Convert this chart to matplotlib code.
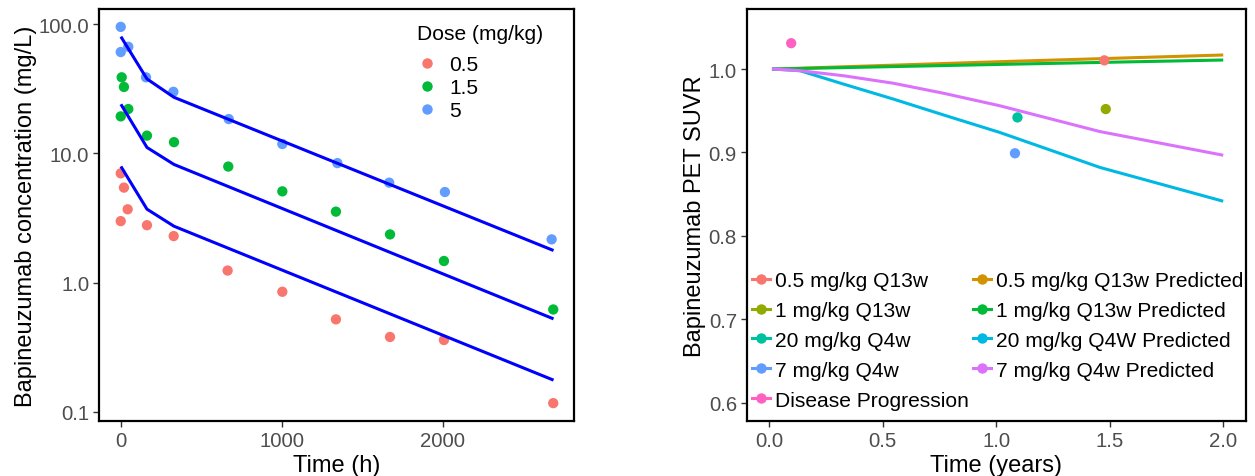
import numpy as np
import matplotlib.pyplot as plt
from matplotlib.lines import Line2D

plt.rcParams['font.family'] = ['Liberation Sans', 'DejaVu Sans']

# ---- left panel: observed concentrations by dose (mg/kg)
doses = ["0.5", "1.5", "5"]
dose_colors = ["#F8766D", "#00BA38", "#619CFF"]
obs_t = {
    "0.5": [0, 20, 43, 0, 163, 329, 664, 1004, 1337, 1673, 2008, 2687],
    "1.5": [6, 20, 0, 47, 163, 331, 668, 1004, 1337, 1673, 2008, 2687],
    "5":   [0, 0, 47, 157, 327, 671, 1004, 1346, 1668, 2014, 2677],
}
obs_c = {
    "0.5": [7.0, 5.43, 3.69, 2.99, 2.78, 2.29, 1.24, 0.85, 0.52, 0.38, 0.36, 0.117],
    "1.5": [38.7, 32.6, 19.3, 22.0, 13.7, 12.2, 7.9, 5.08, 3.54, 2.36, 1.47, 0.62],
    "5":   [95, 60.7, 66.7, 38.7, 29.9, 18.4, 11.8, 8.4, 5.93, 5.02, 2.16],
}
# model predictions
pred_t = [6, 163, 331, 2680]
pred_c = {
    "0.5": [7.74, 3.7, 2.73, 0.178],
    "1.5": [23.4, 11.1, 8.2, 0.53],
    "5":   [78, 37.6, 27.1, 1.79],
}

# ---- right panel: PET SUVR
obs_names = ["0.5 mg/kg Q13w", "1 mg/kg Q13w", "20 mg/kg Q4w", "7 mg/kg Q4w",
             "Disease Progression"]
obs_colors = ["#F8766D", "#93AA00", "#00C19F", "#619CFF", "#FF61C3"]
obs_years = [1.476, 1.482, 1.093, 1.082, 0.096]
obs_suvr = [1.0104, 0.952, 0.942, 0.899, 1.031]

pred_names = ["0.5 mg/kg Q13w Predicted", "1 mg/kg Q13w Predicted",
              "20 mg/kg Q4W Predicted", "7 mg/kg Q4w Predicted"]
pred_colors = ["#D39200", "#00BA38", "#00B9E3", "#DB72FB"]
pred_years = {
    "0.5 mg/kg Q13w Predicted": [0.018, 1.06, 1.993],
    "1 mg/kg Q13w Predicted": [0.018, 1.06, 1.993],
    "20 mg/kg Q4W Predicted": [0.018, 0.135, 0.326, 0.546, 0.767, 1.015, 1.457, 1.993],
    "7 mg/kg Q4w Predicted": [0.018, 0.135, 0.326, 0.546, 0.767, 1.015, 1.457, 1.993],
}
pred_suvr = {
    "0.5 mg/kg Q13w Predicted": [1.0, 1.0092, 1.0168],
    "1 mg/kg Q13w Predicted": [1.0, 1.0058, 1.0108],
    "20 mg/kg Q4W Predicted": [1.0, 0.998, 0.982, 0.964, 0.945, 0.924, 0.882, 0.842],
    "7 mg/kg Q4w Predicted": [1.0, 0.998, 0.992, 0.983, 0.971, 0.956, 0.925, 0.897],
}

W, H = 1255, 477
fig = plt.figure(figsize=(W / 100, H / 100), dpi=100)
axL = fig.add_axes([99 / W, 1 - 422 / H, 475 / W, 412 / H])
axR = fig.add_axes([746.7 / W, 1 - 422 / H, 499.3 / W, 412 / H])

tick_fs = 14.7
lab_fs = 17
leg_fs = 15.1

# left
for d in doses:
    axL.plot(pred_t, pred_c[d], color="#0000FF", lw=2.2, zorder=3)
for d, col in zip(doses, dose_colors):
    axL.scatter(obs_t[d], obs_c[d], s=55, color=col, edgecolors="none", zorder=2, label=d)
axL.set_yscale("log")
axL.set_ylim(10 ** -1.07, 10 ** 2.116)
axL.set_xlim(-135, 2816)
axL.set_yticks([0.1, 1, 10, 100])
axL.set_yticklabels(["0.1", "1.0", "10.0", "100.0"])
axL.minorticks_off()
axL.set_xticks([0, 1000, 2000])
axL.set_xlabel("Time (h)", fontsize=lab_fs, labelpad=3)
axL.set_ylabel("Bapineuzumab concentration (mg/L)", fontsize=lab_fs, labelpad=1)
fig.text(416.7 / W, 1 - 34.5 / H, "Dose (mg/kg)", fontsize=leg_fs, ha="left", va="center")
handles = [Line2D([], [], ls="none", marker="o", ms=7.5, color=c, mec="none") for c in dose_colors]
axL.legend(handles, doses, loc="upper left",
           bbox_to_anchor=(417 / W, 1 - 56 / H), bbox_transform=fig.transFigure,
           frameon=False, fontsize=leg_fs,
           handlelength=0.92, handletextpad=0.61, labelspacing=0.2,
           borderpad=0, borderaxespad=0)

# right
for name, col in zip(pred_names, pred_colors):
    axR.plot(pred_years[name], pred_suvr[name], color=col, lw=2.2, zorder=2)
for x, y, col in zip(obs_years, obs_suvr, obs_colors):
    axR.scatter([x], [y], s=55, color=col, edgecolors="none", zorder=3)
axR.set_xlim(-0.1, 2.1)
axR.set_ylim(0.578, 1.072)
axR.set_xticks([0.0, 0.5, 1.0, 1.5, 2.0])
axR.set_xticklabels(["0.0", "0.5", "1.0", "1.5", "2.0"])
axR.set_yticks([0.6, 0.7, 0.8, 0.9, 1.0])
axR.set_yticklabels(["0.6", "0.7", "0.8", "0.9", "1.0"])
axR.set_xlabel("Time (years)", fontsize=lab_fs, labelpad=3)
axR.set_ylabel("Bapineuzumab PET SUVR", fontsize=lab_fs, labelpad=2)

names_all = obs_names + pred_names
cols_all = obs_colors + pred_colors
handles = [Line2D([], [], color=c, lw=2.2, marker="o", ms=7.5, mec="none") for c in cols_all]
axR.legend(handles, names_all, ncol=2, loc="upper left",
           bbox_to_anchor=(752 / W, 1 - 272 / H), bbox_transform=fig.transFigure,
           frameon=False, fontsize=leg_fs, handlelength=0.85, handletextpad=0.25,
           labelspacing=0.52, columnspacing=0.2, borderpad=0, borderaxespad=0)

for ax in (axL, axR):
    ax.tick_params(axis="both", direction="out", length=4, width=1, color="#333333",
                   labelcolor="#4D4D4D", labelsize=tick_fs, pad=3)
    for sp in ax.spines.values():
        sp.set_linewidth(1.6)
        sp.set_color("black")

fig.savefig("out.png", dpi=100)
